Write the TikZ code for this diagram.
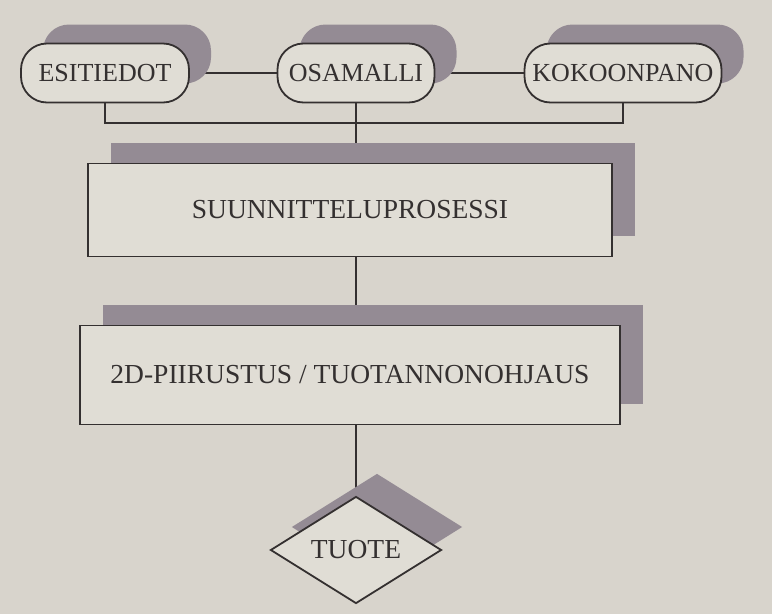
\documentclass[tikz,border=0pt]{standalone}
\usepackage{fontspec}
\setmainfont{Liberation Serif}
\usetikzlibrary{shapes.geometric,shadows,backgrounds}
\definecolor{paper}{RGB}{216,212,204}
\definecolor{boxfill}{RGB}{224,221,213}
\definecolor{shade}{RGB}{148,139,148}
\definecolor{ink}{RGB}{52,48,48}
\tikzset{
 stage/.style={draw=ink,line width=1.8pt,fill=boxfill,text=ink,font=\fontsize{27.5}{30}\selectfont,inner sep=0pt},
 pill/.style={stage,rounded corners=26pt,minimum height=59pt,font=\fontsize{26}{30}\selectfont,general shadow={fill=shade,shadow xshift=22pt,shadow yshift=19pt}},
 block/.style={stage,rectangle,general shadow={fill=shade,shadow xshift=23pt,shadow yshift=21pt}},
 goal/.style={stage,diamond,aspect=1.6,minimum width=171pt,minimum height=107pt,general shadow={fill=shade,shadow xshift=21pt,shadow yshift=23pt}},
 link/.style={draw=ink,line width=1.8pt}
}

\begin{document}
\begin{tikzpicture}[x=1pt,y=-1pt]
\useasboundingbox (0,0) rectangle (772,614);
\begin{scope}[on background layer]
\fill[paper] (0,0) rectangle (772,614);
\end{scope}
\node[pill,minimum width=168pt] (esi) at (105,73) {ESITIEDOT};
\node[pill,minimum width=157pt] (osa) at (356,73) {OSAMALLI};
\node[pill,minimum width=197pt] (kok) at (623,73) {KOKOONPANO};
\node[block,minimum width=524pt,minimum height=93pt] (proc) at (350,210) {SUUNNITTELUPROSESSI};
\node[block,minimum width=540pt,minimum height=99pt] (plan) at (350,375) {2D-PIIRUSTUS / TUOTANNONOHJAUS};
\node[goal] (prod) at (356,550) {TUOTE};
\coordinate (bar) at (0,123);
\begin{scope}[on background layer]
\draw[link] (esi) -- (osa);
\draw[link] (osa) -- (kok);
\draw[link] (esi.south) -- (esi.south |- bar) -- (kok.south |- bar) -- (kok.south);
\draw[link] (osa.south) -- (osa.south |- proc.north);
\draw[link] (osa.south |- proc.south) -- (osa.south |- plan.north);
\draw[link] (osa.south |- plan.south) -- (prod.north);
\end{scope}
\end{tikzpicture}
\end{document}
